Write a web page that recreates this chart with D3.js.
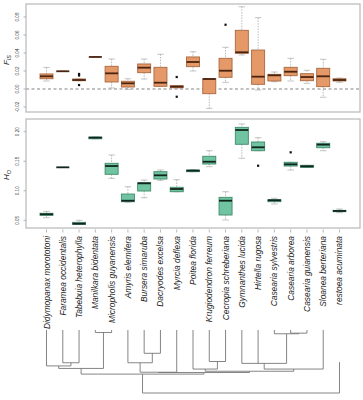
<!DOCTYPE html>
<html><head><meta charset="utf-8">
<script src="https://cdn.jsdelivr.net/npm/d3@7"></script>
<style>body{margin:0;background:#fff}svg{display:block}</style>
</head><body><svg id="c" width="363" height="400"></svg>
<script>
const species = ["Didymopanax morototoni","Faramea occidentalis","Tabebuia heterophylla","Manilkara bidentata","Micropholis guyanensis","Amyris elemifera","Bursera simaruba","Dacryodes excelsa","Myrcia deflexa","Poitea florida","Krugiodendron ferreum","Cecropia schreberiana","Gymnanthes lucida","Hirtella rugosa","Casearia sylvestris","Casearia arborea","Casearia guianensis","Sloanea berteriana","restoea acuminata"];

const fisLow    = [0.0089,0.0197,0.0092,0.0356,0.0011,-0.0004,0.0111,0.0030,0.0014,0.0200,-0.0215,0.0074,0.0378,-0.0011,0.0081,0.0089,0.0063,-0.0092,0.0074];
const fisQ1     = [0.0114,0.0197,0.0092,0.0356,0.0078,0.0022,0.0181,0.0030,0.0014,0.0248,-0.0052,0.0130,0.0397,0.0052,0.0089,0.0148,0.0092,0.0026,0.0089];
const fisMedian = [0.0141,0.0197,0.0100,0.0356,0.0174,0.0063,0.0237,0.0070,0.0026,0.0300,0.0111,0.0203,0.0408,0.0137,0.0152,0.0192,0.0133,0.0141,0.0100];
const fisQ3     = [0.0167,0.0197,0.0111,0.0356,0.0252,0.0086,0.0278,0.0241,0.0037,0.0356,0.0114,0.0341,0.0652,0.0433,0.0163,0.0241,0.0170,0.0230,0.0114];
const fisHigh   = [0.0240,0.0197,0.0111,0.0356,0.0333,0.0114,0.0333,0.0386,0.0037,0.0414,0.0114,0.0463,0.0914,0.0792,0.0189,0.0341,0.0208,0.0330,0.0122];
const fisOutliers = [[],[],[0.0167,0.0150,0.0044],[],[],[],[],[],[0.0133,-0.0086],[],[],[0.0714],[],[],[],[],[],[],[]];

const hoLow    = [0.0544,0.1397,0.0432,0.1880,0.1211,0.0805,0.0883,0.1177,0.0984,0.1323,0.1408,0.0505,0.1550,0.1678,0.0776,0.1352,0.1397,0.1678,0.0629];
const hoQ1     = [0.0585,0.1397,0.0432,0.1880,0.1279,0.0815,0.0996,0.1199,0.0984,0.1323,0.1453,0.0590,0.1787,0.1678,0.0815,0.1419,0.1397,0.1729,0.0646];
const hoMedian = [0.0602,0.1397,0.0443,0.1899,0.1419,0.0832,0.1126,0.1262,0.1030,0.1340,0.1492,0.0832,0.2029,0.1736,0.0839,0.1448,0.1414,0.1781,0.0658];
const hoQ3     = [0.0619,0.1397,0.0466,0.1910,0.1465,0.0945,0.1137,0.1323,0.1059,0.1352,0.1584,0.0889,0.2074,0.1826,0.0849,0.1482,0.1431,0.1804,0.0669];
const hoHigh   = [0.0652,0.1397,0.0500,0.1910,0.1606,0.1069,0.1182,0.1352,0.1187,0.1360,0.1678,0.0984,0.2130,0.1898,0.0873,0.1482,0.1431,0.1831,0.0692];
const hoOutliers = [[],[],[],[],[],[],[],[],[],[],[],[],[],[0.1424],[],[0.1651],[],[],[]];

const fisTicks = [-0.02,0.00,0.02,0.04,0.06,0.08];
const hoTicks = [0.05,0.10,0.15,0.20];

// tree: leaves are species indices (0-based); h = node depth (0 = tips, 1 = root)
const tree = {h:1.0, children:[
  {h:0.70, children:[
    {h:0.61, children:[
      {h:0.57, children:[{leaf:0},{h:0.52, children:[{leaf:1},{leaf:2}]}]},
      {h:0.04, children:[{leaf:3},{leaf:4}]}
    ]},
    {h:0.675, children:[
      {h:0.67, children:[{h:0.52, children:[{leaf:5},{h:0.37, children:[{leaf:6},{leaf:7}]}]},{leaf:8}]},
      {h:0.655, children:[
        {h:0.62, children:[{leaf:9},{h:0.50, children:[{leaf:10},{leaf:11}]}]},
        {h:0.62, children:[{h:0.53, children:[{leaf:12},{leaf:13},{h:0.06, children:[{leaf:14},{h:0.05, children:[{leaf:15},{leaf:16}]}]}]},{leaf:17}]}
      ]}
    ]}
  ]},
  {leaf:18, tip:0.51}
]};

const svg = d3.select("#c");
const L = 26, R = 360;
const n = species.length;
const x = d3.scaleLinear().domain([0.5 - 0.04*n, n + 0.5 + 0.04*n]).range([L, R]);
const yF = d3.scaleLinear().domain([-0.02556, 0.09444]).range([112, 4]);
const yH = d3.scaleLinear().domain([0.0370, 0.2215]).range([228, 119]);
const boxW = 0.8*(x(2)-x(1));

function panel(y, top, bottom, ticks, fill, stroke, medCol, low, q1, med, q3, high, outs, title, sub, titleY, zeroLine) {
  const g = svg.append("g");
  if (zeroLine) {
    g.append("line").attr("x1", L).attr("x2", R).attr("y1", y(0)).attr("y2", y(0))
      .attr("stroke", "#777").attr("stroke-width", 0.9).attr("stroke-dasharray", "3,2.5");
  }
  species.forEach((s, i) => {
    const cx = x(i+1);
    // whiskers
    g.append("line").attr("x1", cx).attr("x2", cx).attr("y1", y(high[i])).attr("y2", y(q3[i]))
      .attr("stroke", "#999").attr("stroke-width", 0.7).attr("stroke-dasharray", "1.5,1.2");
    g.append("line").attr("x1", cx).attr("x2", cx).attr("y1", y(q1[i])).attr("y2", y(low[i]))
      .attr("stroke", "#999").attr("stroke-width", 0.7).attr("stroke-dasharray", "1.5,1.2");
    [high[i], low[i]].forEach(v => {
      g.append("line").attr("x1", cx - boxW/4).attr("x2", cx + boxW/4).attr("y1", y(v)).attr("y2", y(v))
        .attr("stroke", "#aaa").attr("stroke-width", 0.7);
    });
    // box
    g.append("rect").attr("x", cx - boxW/2).attr("width", boxW)
      .attr("y", y(q3[i])).attr("height", Math.max(0, y(q1[i]) - y(q3[i])))
      .attr("fill", fill).attr("stroke", stroke).attr("stroke-width", 0.9);
    g.append("line").attr("x1", cx - boxW/2).attr("x2", cx + boxW/2).attr("y1", y(med[i])).attr("y2", y(med[i]))
      .attr("stroke", medCol).attr("stroke-width", 1.8);
    outs[i].forEach(v => {
      g.append("rect").attr("x", cx - 1.1).attr("y", y(v) - 1.1).attr("width", 2.2).attr("height", 2.2).attr("fill", "#111");
    });
  });
  // frame
  g.append("rect").attr("x", L).attr("y", top).attr("width", R - L).attr("height", bottom - top)
    .attr("fill", "none").attr("stroke", "#bdbdbd").attr("stroke-width", 1.3);
  // y ticks
  ticks.forEach(t => {
    g.append("line").attr("x1", L - 2.5).attr("x2", L).attr("y1", y(t)).attr("y2", y(t)).attr("stroke", "#888").attr("stroke-width", 0.6);
    g.append("text").attr("transform", `translate(18.5,${y(t)}) rotate(-90)`)
      .attr("text-anchor", "middle").attr("font-family", "Liberation Sans, Arial, sans-serif")
      .attr("font-size", 4.6).attr("fill", "#444").text(t.toFixed(2));
  });
  const tt = g.append("text").attr("transform", `translate(9,${titleY}) rotate(-90)`)
    .attr("text-anchor", "middle").attr("font-family", "Liberation Sans, Arial, sans-serif")
    .attr("font-style", "italic").attr("font-size", 8).attr("fill", "#222");
  tt.append("tspan").text(title);
  tt.append("tspan").attr("font-size", 5.5).attr("dy", 2).text(sub);
}

panel(yF, 4, 112, fisTicks, "#e59868", "#a8683f", "#4a2410", fisLow, fisQ1, fisMedian, fisQ3, fisHigh, fisOutliers, "F", "IS", 60, true);
panel(yH, 119, 228, hoTicks, "#70c4a2", "#3f8b6b", "#10261c", hoLow, hoQ1, hoMedian, hoQ3, hoHigh, hoOutliers, "H", "O", 175, false);

// x-axis ticks and species labels
species.forEach((s, i) => {
  const cx = x(i+1);
  svg.append("line").attr("x1", cx).attr("x2", cx).attr("y1", 229.5).attr("y2", 232.5).attr("stroke", "#888").attr("stroke-width", 0.6);
  svg.append("text").attr("transform", `translate(${cx + 3},236) rotate(-90)`)
    .attr("text-anchor", "end").attr("font-family", "Liberation Sans, Arial, sans-serif")
    .attr("font-style", "italic").attr("font-size", 8.4).attr("fill", "#222").text(s);
});

// dendrogram
const yT = d3.scaleLinear().domain([0, 1]).range([330, 393]);
const tg = svg.append("g").attr("stroke", "#777").attr("stroke-width", 0.9).attr("fill", "none");
function draw(node) {
  if (node.leaf !== undefined) { node.x = x(node.leaf + 1); node.top = node.tip || 0; return; }
  node.children.forEach(draw);
  const xs = node.children.map(c => c.x);
  node.x = (d3.min(xs) + d3.max(xs)) / 2;
  node.top = node.h;
  tg.append("line").attr("x1", d3.min(xs)).attr("x2", d3.max(xs)).attr("y1", yT(node.h)).attr("y2", yT(node.h));
  node.children.forEach(c => {
    tg.append("line").attr("x1", c.x).attr("x2", c.x).attr("y1", yT(c.top)).attr("y2", yT(node.h));
  });
}
draw(tree);
</script></body></html>
